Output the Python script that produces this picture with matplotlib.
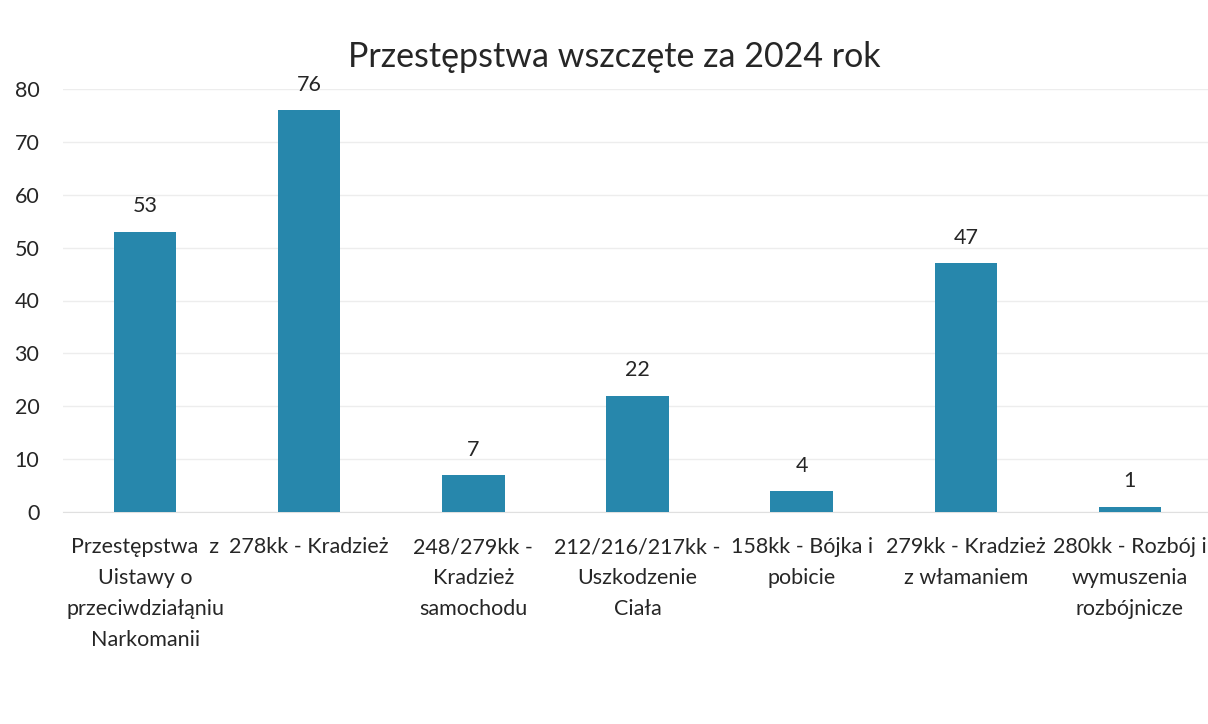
import matplotlib
matplotlib.use("Agg")
import matplotlib.pyplot as plt

categories = [
    "Przestępstwa  z\nUistawy o\nprzeciwdziałąniu\nNarkomanii",
    "278kk - Kradzież",
    "248/279kk -\nKradzież\nsamochodu",
    "212/216/217kk -\nUszkodzenie\nCiała",
    "158kk - Bójka i\npobicie",
    "279kk - Kradzież\nz włamaniem",
    "280kk - Rozbój i\nwymuszenia\nrozbójnicze",
]
values = [53, 76, 7, 22, 4, 47, 1]
yticks = [0, 10, 20, 30, 40, 50, 60, 70, 80]
title = "Przestępstwa wszczęte za 2024 rok"

plt.rcParams['font.family'] = ['Lato', 'DejaVu Sans']
txt = '#262626'

fig = plt.figure(figsize=(12.08, 7.24), dpi=100)
ax = fig.add_axes([63/1208, 212/724, (1212-63)/1208, 423/724])
x = list(range(len(values)))
bars = ax.bar(x, values, width=0.38, color='#2787AC', zorder=3)
for xi, v in zip(x, values):
    ax.text(xi, v + 2.9, str(v), ha='center', va='bottom', fontsize=15.5, color=txt)

ax.set_xlim(-0.5, len(values) - 0.5)
ax.set_ylim(0, 80)
ax.set_yticks(yticks)
ax.set_yticklabels([str(t) for t in yticks], fontsize=15.5, color=txt)
ax.set_xticks(x)
ax.set_xticklabels(categories, fontsize=15.5, color=txt, linespacing=1.68, va='top')
ax.tick_params(axis='both', length=0)
ax.tick_params(axis='x', pad=18)
ax.tick_params(axis='y', pad=17)
ax.grid(axis='y', color='#ededed', linewidth=1, zorder=0)
for s in ['top', 'right', 'left']:
    ax.spines[s].set_visible(False)
ax.spines['bottom'].set_color('#e0e0e0')

fig.text(0.5 + 10/1208, 1 - 57/724, title, ha='center', va='center', fontsize=24.5, color=txt)
fig.savefig('out.png', dpi=100, facecolor='white')
